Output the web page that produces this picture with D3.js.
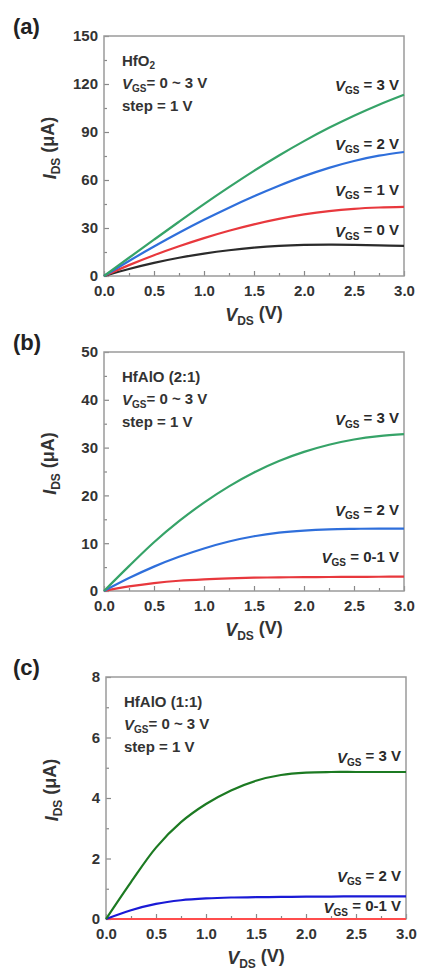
<!DOCTYPE html>
<html>
<head>
<meta charset="utf-8">
<script src="https://cdn.jsdelivr.net/npm/d3@7"></script>
<style>
  body { margin: 0; background: #fff; }
  text { font-family: "Liberation Sans", Arial, sans-serif; }
</style>
</head>
<body>
<div id="chart"></div>
<script>
// V_DS sample points shared by all panels
var vds = [0, 0.25, 0.5, 0.75, 1.0, 1.25, 1.5, 1.75, 2.0, 2.25, 2.5, 2.75, 3.0];
var xTicks = [0, 0.5, 1.0, 1.5, 2.0, 2.5, 3.0];

// (a) HfO2
var hfo2Vgs3 = [0, 11.4, 22.7, 33.9, 44.9, 55.5, 65.7, 75.3, 84.3, 92.6, 100.2, 107.1, 113.3];
var hfo2Vgs2 = [0, 9.4, 18.4, 27, 35.1, 42.7, 49.8, 56.4, 62.4, 67.6, 71.9, 75.2, 77.5];
var hfo2Vgs1 = [0, 6.8, 13, 18.6, 23.7, 28.3, 32.3, 35.7, 38.5, 40.6, 42.0, 42.8, 43.2];
var hfo2Vgs0 = [0, 4.4, 8.2, 11.4, 14.0, 16.1, 17.7, 18.8, 19.4, 19.6, 19.5, 19.2, 18.8];
var hfo2Ticks = [0, 30, 60, 90, 120, 150];

// (b) HfAlO (2:1)
var hfalo21Vgs3 = [0, 5.2, 10.2, 14.6, 18.5, 21.9, 24.8, 27.2, 29.1, 30.6, 31.7, 32.4, 32.8];
var hfalo21Vgs2 = [0, 2.7, 5.1, 7.15, 8.9, 10.35, 11.45, 12.2, 12.65, 12.9, 13.0, 13.05, 13.05];
var hfalo21Vgs01 = [0, 0.95, 1.65, 2.15, 2.45, 2.65, 2.78, 2.86, 2.9, 2.93, 2.96, 2.98, 3.0];
var hfalo21Ticks = [0, 10, 20, 30, 40, 50];

// (c) HfAlO (1:1)
var hfalo11Vgs3 = [0, 1.22, 2.36, 3.2, 3.8, 4.25, 4.57, 4.76, 4.84, 4.86, 4.86, 4.86, 4.86];
var hfalo11Vgs2 = [0, 0.29, 0.5, 0.62, 0.68, 0.71, 0.72, 0.73, 0.74, 0.74, 0.75, 0.75, 0.75];
var hfalo11Vgs01 = [0, 0, 0, 0, 0, 0, 0, 0, 0, 0, 0, 0, 0];
var hfalo11Ticks = [0, 2, 4, 6, 8];

// curve labels: text and the I_DS value where each label sits
var hfo2Labels = [['3 V', 115.6], ['2 V', 78.7], ['1 V', 50], ['0 V', 24.4]];
var hfalo21Labels = [['3 V', 34.8], ['2 V', 15.6], ['0-1 V', 5.8]];
var hfalo11Labels = [['3 V', 5.16], ['2 V', 1.22], ['0-1 V', 0.2]];

var panels = [
  { tag: '(a)', top: 36, left: 104, height: 240, ticks: hfo2Ticks, minor: 15,
    title: [['HfO', ''], ['2', 'sub']],
    series: [[hfo2Vgs0, '#2b2b2b'], [hfo2Vgs1, '#e8383d'], [hfo2Vgs2, '#2f6fdb'], [hfo2Vgs3, '#36a368']],
    labels: hfo2Labels },
  { tag: '(b)', top: 352, left: 104, height: 239, ticks: hfalo21Ticks, minor: 5,
    title: [['HfAlO (2:1)', '']],
    series: [[hfalo21Vgs01, '#e8383d'], [hfalo21Vgs2, '#2f6fdb'], [hfalo21Vgs3, '#36a368']],
    labels: hfalo21Labels },
  { tag: '(c)', top: 677, left: 106, height: 242, ticks: hfalo11Ticks, minor: 1,
    title: [['HfAlO (1:1)', '']],
    series: [[hfalo11Vgs01, '#ff4d4d'], [hfalo11Vgs2, '#1a1ad6'], [hfalo11Vgs3, '#1c7a22']],
    labels: hfalo11Labels }
];

var width = 300;
var svg = d3.select('#chart')
  .append('svg')
    .attr('width', 421)
    .attr('height', 972);

// italic main letter + upright subscript, returns a tspan for the rest
function addSub(text, main, sub, subSize) {
  text.append('tspan').text(main).attr('font-style', 'italic');
  text.append('tspan').text(sub)
    .attr('font-size', subSize)
    .attr('dy', '0.3em');
  return text.append('tspan').attr('dy', '-0.3em');
}

panels.forEach(function (p) {
  var g = svg.append('g')
    .attr('transform', 'translate(' + p.left + ', ' + p.top + ')');
  var yMax = p.ticks[p.ticks.length - 1];

  var xScale = d3.scaleLinear().domain([0, 3]).range([0, width]);
  var yScale = d3.scaleLinear().domain([0, yMax]).range([p.height, 0]);

  // minor ticks
  g.append('g')
    .attr('transform', `translate(0, ${p.height})`)
    .call(d3.axisBottom(xScale).tickValues(d3.range(0.25, 3, 0.5)).tickSize(-3).tickFormat(''));
  g.append('g')
    .call(d3.axisLeft(yScale).tickValues(d3.range(p.minor, yMax, p.minor * 2)).tickSize(-3).tickFormat(''));

  // major ticks
  g.append('g')
    .attr('transform', `translate(0, ${p.height})`)
    .call(d3.axisBottom(xScale).tickValues(xTicks).tickSize(-5).tickPadding(9).tickFormat(d3.format('.1f')));
  g.append('g')
    .call(d3.axisLeft(yScale).tickValues(p.ticks).tickSize(-5).tickPadding(6));

  g.selectAll('.domain').remove();
  g.selectAll('.tick line').attr('stroke', '#888').attr('stroke-width', 1.2);
  g.selectAll('.tick text')
    .attr('font-size', 15)
    .attr('font-weight', 'bold')
    .attr('fill', '#333');

  // frame
  g.append('rect')
    .attr('width', width)
    .attr('height', p.height)
    .attr('fill', 'none')
    .attr('stroke', '#9a9a9a')
    .attr('stroke-width', 1.5);

  // curves
  var line = d3.line()
    .x((d, i) => xScale(vds[i]))
    .y(d => yScale(d))
    .curve(d3.curveCatmullRom);
  p.series.forEach(function (s) {
    g.append('path')
      .datum(s[0])
      .attr('d', line)
      .attr('fill', 'none')
      .attr('stroke', s[1])
      .attr('stroke-width', 2.2);
  });

  // curve labels
  p.labels.forEach(function (l) {
    var t = g.append('text')
      .attr('x', 295)
      .attr('y', yScale(l[1]))
      .attr('text-anchor', 'end')
      .attr('font-size', 15)
      .attr('font-weight', 'bold')
      .attr('fill', '#2a2a2a');
    addSub(t, 'V', 'GS', 10).text(' = ' + l[0]);
  });

  // inset text
  var t1 = g.append('text')
    .attr('x', 18).attr('y', 30)
    .attr('font-size', 15).attr('font-weight', 'bold').attr('fill', '#333');
  p.title.forEach(function (part) {
    var ts = t1.append('tspan').text(part[0]);
    if (part[1] === 'sub') ts.attr('font-size', 10).attr('dy', '0.3em');
  });
  var t2 = g.append('text')
    .attr('x', 18).attr('y', 53)
    .attr('font-size', 15).attr('font-weight', 'bold').attr('fill', '#333');
  addSub(t2, 'V', 'GS', 10).text('= 0 ~ 3 V');
  g.append('text')
    .attr('x', 18).attr('y', 75)
    .attr('font-size', 15).attr('font-weight', 'bold').attr('fill', '#333')
    .text('step = 1 V');

  // axis titles
  var xt = g.append('text')
    .attr('x', width / 2)
    .attr('y', p.height + 45)
    .attr('text-anchor', 'middle')
    .attr('font-size', 18).attr('font-weight', 'bold').attr('fill', '#333');
  addSub(xt, 'V', 'DS', 12).text(' (V)');

  var yt = g.append('text')
    .attr('transform', 'translate(' + (-48) + ', ' + (p.height / 2 - 8) + ') rotate(-90)')
    .attr('text-anchor', 'middle')
    .attr('font-size', 18).attr('font-weight', 'bold').attr('fill', '#333');
  addSub(yt, 'I', 'DS', 12).text(' (\u03bcA)');

  // panel tag
  svg.append('text')
    .attr('x', 13)
    .attr('y', p.top - 2)
    .attr('font-size', 22)
    .attr('font-weight', 'bold')
    .attr('fill', '#222')
    .text(p.tag);
});
</script>
</body>
</html>
